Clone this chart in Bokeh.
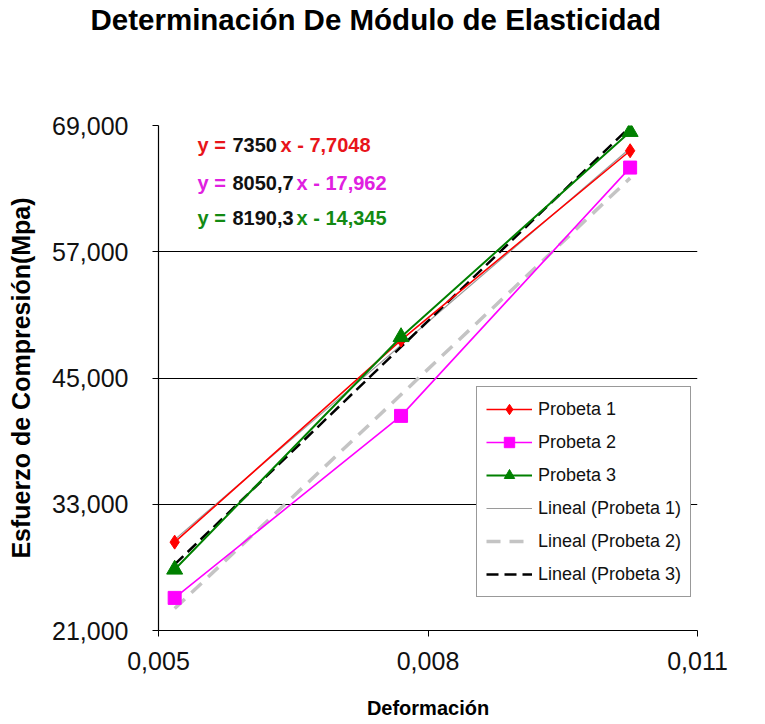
import numpy as np
from bokeh.plotting import figure
from bokeh.models import (Range1d, FixedTicker, CustomJSTickFormatter, Legend,
                          LegendItem, Label)
from bokeh.embed import file_html
from bokeh.resources import INLINE

# ---- data ----
deformacion = [0.00518, 0.00770, 0.01025]
probeta_1 = [29.4, 48.6, 66.6]
probeta_2 = [24.1, 41.4, 65.0]
probeta_3 = [26.8, 48.9, 68.4]

x_ticks = [0.005, 0.008, 0.011]
y_ticks = [21, 33, 45, 57, 69]

series_names = ["Probeta 1", "Probeta 2", "Probeta 3"]
trend_names = ["Lineal (Probeta 1)", "Lineal (Probeta 2)", "Lineal (Probeta 3)"]

# equation texts: (prefix, number, suffix)
equations = [
    ("y =", "7350", "x - 7,7048"),
    ("y =", "8050,7", "x - 17,962"),
    ("y =", "8190,3", "x - 14,345"),
]

title_text = "Determinación De Módulo de Elasticidad"
x_label = "Deformación"
y_label = "Esfuerzo de Compresión(Mpa)"

FONT = "Liberation Sans"

p = figure(width=765, height=724, output_backend="svg", toolbar_location=None,
           x_range=Range1d(x_ticks[0], x_ticks[-1]),
           y_range=Range1d(y_ticks[0], y_ticks[-1]),
           min_border_left=158, min_border_right=68,
           min_border_top=125, min_border_bottom=94)
p.outline_line_color = None
p.background_fill_color = "white"
p.border_fill_color = "white"

# title (two empty trailing lines push it to the top of the canvas)
p.title.text = title_text + "\n\n"
p.title.align = "left"
p.title.offset = -68
p.title.text_font = FONT
p.title.text_font_size = "29.5px"
p.title.text_font_style = "bold"
p.title.text_color = "black"
p.title.text_line_height = 1.35
p.title.standoff = 0

# axes
fmt = CustomJSTickFormatter(code="return tick.toFixed(3).replace('.', ',');")
p.xaxis.ticker = FixedTicker(ticks=x_ticks)
p.yaxis.ticker = FixedTicker(ticks=y_ticks)
p.xaxis.formatter = fmt
p.yaxis.formatter = fmt
for ax in (p.xaxis, p.yaxis):
    ax.major_label_text_font = FONT
    ax.major_label_text_font_size = "25px"
    ax.major_label_text_color = "#111111"
    ax.axis_line_color = "black"
    ax.axis_line_width = 1.2
    ax.major_tick_line_color = "black"
    ax.major_tick_out = 6
    ax.major_tick_in = 0
    ax.minor_tick_line_color = None
    ax.axis_label_text_font = FONT
    ax.axis_label_text_font_style = "bold"
    ax.axis_label_text_color = "black"
p.xaxis.axis_label_text_font_size = "20px"
p.yaxis.axis_label_text_font_size = "25px"
p.yaxis.major_label_standoff = 24
p.xaxis.major_label_standoff = 15
p.xaxis.axis_label = x_label
p.yaxis.axis_label = y_label
p.yaxis.axis_label_standoff = 14
p.xaxis.axis_label_standoff = 24

p.xgrid.grid_line_color = None
p.ygrid.grid_line_color = "black"
p.ygrid.grid_line_width = 1

# trend lines (least squares on the data)
xs = np.array(deformacion)
trend_styles = [
    dict(color="#9a9a9a", width=1.2, dash="solid"),
    dict(color="#c4c4c4", width=3.5, dash="14 9"),
    dict(color="black", width=2.5, dash="12 6"),
]
trend_renderers = []
for ys, st in zip([probeta_1, probeta_2, probeta_3], trend_styles):
    m, b = np.polyfit(xs, np.array(ys), 1)
    xe = [deformacion[0], deformacion[-1]]
    ye = [m * xe[0] + b, m * xe[1] + b]
    r = p.line(xe, ye, line_color=st["color"], line_width=st["width"],
               line_dash=st["dash"])
    trend_renderers.append(r)

# series
series_styles = [
    dict(color="#ff0000", marker="diamond", size=14, width=1.6),
    dict(color="#ff00ff", marker="square", size=13, width=1.6),
    dict(color="#008000", marker="triangle", size=16, width=2.0),
]
series_renderers = []
for ys, st in zip([probeta_1, probeta_2, probeta_3], series_styles):
    rl = p.line(deformacion, ys, line_color=st["color"], line_width=st["width"])
    rs = p.scatter(deformacion, ys, marker=st["marker"], size=st["size"],
                   fill_color=st["color"], line_color=st["color"])
    series_renderers.append([rl, rs])

items = [LegendItem(label=n, renderers=r) for n, r in zip(series_names, series_renderers)]
items += [LegendItem(label=n, renderers=[r]) for n, r in zip(trend_names, trend_renderers)]
legend = Legend(items=items, location=(318, 33),
                label_text_font=FONT, label_text_font_size="18px",
                label_text_color="#111111",
                glyph_width=46, glyph_height=26, label_height=26,
                label_standoff=6, spacing=7, padding=9,
                margin=0, border_line_color="#333333", border_line_width=1.2,
                background_fill_color="white", background_fill_alpha=1.0)
p.add_layout(legend, "center")

# equations (mixed colors)
eq_colors = ["#e8141a", "#e020e0", "#138a13"]
eq_y = [486, 448, 413]
eq_suffix_x = [122, 138, 138]
for (pre, num, suf), col, yy, sx in zip(equations, eq_colors, eq_y, eq_suffix_x):
    for txt, xx, c in [(pre, 39, col), (num, 74, "#111111"), (suf, sx, col)]:
        p.add_layout(Label(x=xx, y=yy, x_units="screen", y_units="screen", text=txt,
                           text_font=FONT, text_font_size="20px",
                           text_font_style="bold", text_color=c,
                           text_baseline="middle", text_align="left"))

open("out.html", "w").write(file_html(p, INLINE))
